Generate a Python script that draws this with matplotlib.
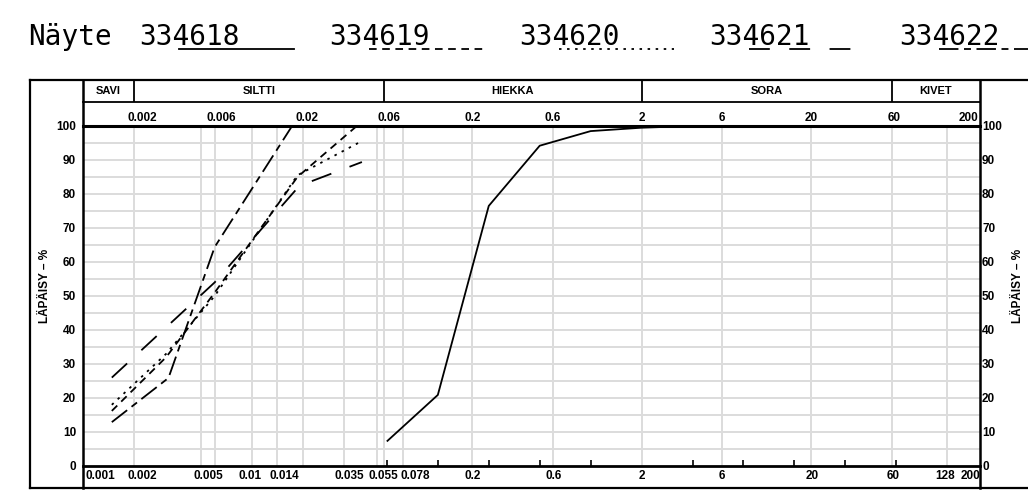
import matplotlib
matplotlib.use("Agg")
import matplotlib.pyplot as plt
from matplotlib.lines import Line2D
from matplotlib.ticker import FixedLocator, NullFormatter
from matplotlib.transforms import ScaledTranslation

# --- data ---
samples = ["334618", "334619", "334620", "334621", "334622"]

d_618 = [0.063, 0.125, 0.25, 0.5, 1, 2, 4]
p_618 = [7.4, 20.9, 76.5, 94.2, 98.5, 99.5, 100]

d_619 = [0.00148, 0.0031, 0.006, 0.0185, 0.0415]
p_619 = [16.2, 32, 51, 85, 100]

d_620 = [0.00148, 0.0031, 0.006, 0.0185, 0.0423]
p_620 = [18, 33, 50, 85.5, 95]

d_621 = [0.00148, 0.006, 0.019, 0.0445]
p_621 = [26, 54, 82.4, 89.4]

d_622 = [0.00148, 0.0032, 0.006, 0.0172]
p_622 = [12.9, 25.9, 64.4, 100]

classes = ["SAVI", "SILTTI", "HIEKKA", "SORA", "KIVET"]
class_bounds = [0.001, 0.002, 0.06, 2, 60, 200]

bottom_ticks = [0.001, 0.002, 0.005, 0.01, 0.014, 0.035, 0.055, 0.078, 0.2, 0.6, 2, 6, 20, 60, 128, 200]
bottom_labels = ["0.001", "0.002", "0.005", "0.01", "0.014", "0.035", "0.055", "0.078",
                 "0.2", "0.6", "2", "6", "20", "60", "128", "200"]
top_ticks = [0.002, 0.006, 0.02, 0.06, 0.2, 0.6, 2, 6, 20, 60, 200]
top_labels = ["0.002", "0.006", "0.02", "0.06", "0.2", "0.6", "2", "6", "20", "60", "200"]
grid_x = [0.002, 0.005, 0.006, 0.01, 0.014, 0.02, 0.035, 0.055, 0.06, 0.078,
          0.2, 0.6, 2, 6, 20, 60, 128]
sieves = [0.063, 0.125, 0.25, 0.5, 1, 4, 8, 16, 32, 64]

# --- label placement tweaks (pixels) ---
bottom_dx = [3, 8, 7, -2, 7, 5, 6, -3, 0, 1, 0, 0, 1, 2, -2, 0]
bottom_ha = ["left"] + ["center"] * 6 + ["left"] + ["center"] * 7 + ["right"]
top_dx = [8, 7, 4, 5, 0, 0, 0, 0, 0, 3, -2]
top_ha = ["center"] * 10 + ["right"]

# --- styles ---
plt.rcParams['lines.scale_dashes'] = False
W, H = 1028, 497
LBL = dict(family="Liberation Sans", weight="bold", size=8.5)
styles = [
    dict(linestyle="-"),
    dict(linestyle=(0, (5.5, 4))),
    dict(linestyle=(0, (1.8, 4))),
    dict(linestyle=(0, (15, 14))),
    dict(linestyle=(0, (14, 4, 5, 4))),
]
curves = [(d_618, p_618), (d_619, p_619), (d_620, p_620), (d_621, p_621), (d_622, p_622)]


def px_box(x0, y0, x1, y1):
    return [x0 / W, 1 - y1 / H, (x1 - x0) / W, (y1 - y0) / H]


fig = plt.figure(figsize=(W / 100, H / 100), dpi=100)
fig.patch.set_facecolor("white")


def shift(dx, dy):
    return ScaledTranslation(dx / 100, dy / 100, fig.dpi_scale_trans)


# outer frame
frame = fig.add_axes(px_box(30, 80, 1050, 488))
frame.set_facecolor("none")
frame.set_xticks([])
frame.set_yticks([])
for s in frame.spines.values():
    s.set_linewidth(1.6)

# main plot
ax = fig.add_axes(px_box(83, 126, 980, 466))
ax.set_facecolor("none")
ax.set_xscale("log")
ax.set_xlim(0.001, 200)
ax.set_ylim(0, 100)
for g in grid_x:
    ax.axvline(g, color="#dcdcdc", lw=1.4, zorder=1)
for y in range(5, 100, 5):
    ax.axhline(y, color="#dcdcdc", lw=1.4, zorder=1)

for (d, p), st in zip(curves, styles):
    ax.plot(d, p, color="black", lw=1.3, zorder=3, **st)

# x tick labels drawn as texts so they can be nudged like the original
ax.set_xticks(sieves, minor=True)
ax.set_xticks([])
ax.xaxis.set_minor_formatter(NullFormatter())
ax.tick_params(axis="x", which="minor", length=4, width=1.2, direction="in", color="black")
xt = ax.get_xaxis_transform()
for v, lab, dx, ha in zip(bottom_ticks, bottom_labels, bottom_dx, bottom_ha):
    ax.text(v, 0, lab, ha=ha, va="top", transform=xt + shift(dx, -4), **LBL)
for v, lab, dx, ha in zip(top_ticks, top_labels, top_dx, top_ha):
    ax.text(v, 1, lab, ha=ha, va="bottom", transform=xt + shift(dx, 2), **LBL)

ax.set_yticks(range(0, 101, 10))
ax.set_yticklabels([str(v) for v in range(0, 101, 10)], **LBL)
ax.tick_params(axis="y", length=0, pad=5)
ax.spines["top"].set_linewidth(2.2)
ax.spines["bottom"].set_linewidth(2.0)
ax.spines["left"].set_visible(False)
ax.spines["right"].set_visible(False)

# right-hand labels
axr = ax.twinx()
axr.set_ylim(0, 100)
axr.set_yticks(range(0, 101, 10))
axr.set_yticklabels([str(v) for v in range(0, 101, 10)], **LBL)
axr.tick_params(axis="y", length=0, pad=1.5)
for s in axr.spines.values():
    s.set_visible(False)

# soil class header
head = fig.add_axes(px_box(83, 80, 980, 102))
head.set_facecolor("none")
head.set_xscale("log")
head.set_xlim(0.001, 200)
head.set_ylim(0, 1)
head.set_xticks([])
head.set_yticks([])
head.xaxis.set_minor_locator(FixedLocator([]))
for b in class_bounds[1:-1]:
    head.axvline(b, color="black", lw=1.3)
for name, lo, hi in zip(classes, class_bounds[:-1], class_bounds[1:]):
    head.text((lo * hi) ** 0.5, 0.5, name, ha="center", va="center",
              family="Liberation Sans", weight="bold", size=8)
head.spines["left"].set_visible(False)
head.spines["right"].set_visible(False)
head.spines["top"].set_visible(False)
head.spines["bottom"].set_linewidth(1.3)

# long vertical edges
col = fig.add_axes(px_box(83, 80, 980, 488))
col.set_facecolor("none")
col.set_xticks([])
col.set_yticks([])
col.spines["top"].set_visible(False)
col.spines["bottom"].set_visible(False)
col.spines["left"].set_linewidth(1.8)
col.spines["right"].set_linewidth(1.8)

fig.text(45 / W, 1 - 286 / H, "LÄPÄISY – %", rotation=90, ha="center", va="center", **LBL)
fig.text(1018 / W, 1 - 286 / H, "LÄPÄISY – %", rotation=90, ha="center", va="center", **LBL)

# sample legend along the top
leg = fig.add_axes(px_box(0, 0, W, 80))
leg.set_xlim(0, W)
leg.set_ylim(80, 0)
leg.axis("off")
leg.text(28, 45, "Näyte", family="DejaVu Sans Mono", size=20, va="baseline", ha="left")
for i, (name, st) in enumerate(zip(samples, styles)):
    x0 = 139 + i * 190
    leg.text(x0, 45, name, family="DejaVu Sans Mono", size=20, va="baseline", ha="left")
    leg.add_line(Line2D([x0 + 40, x0 + 155], [49, 49], color="black", lw=1.3, **st))

fig.savefig("out.png", dpi=100)
